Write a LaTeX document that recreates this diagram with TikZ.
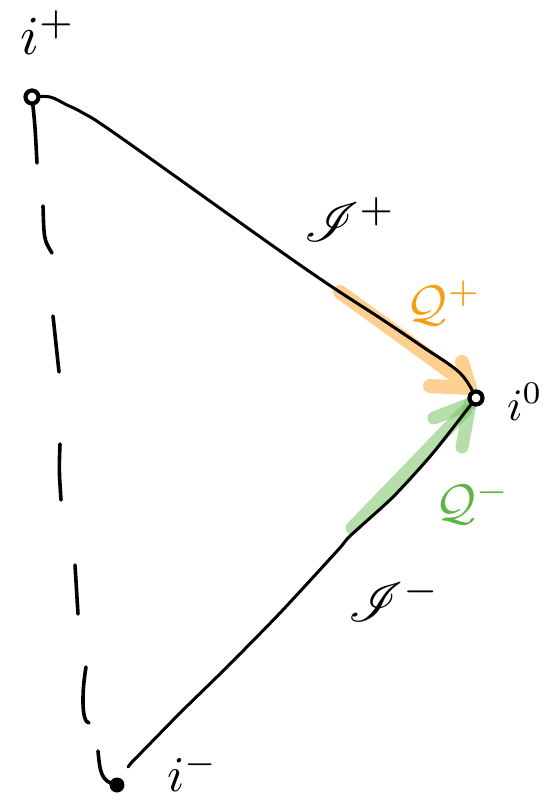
\documentclass[tikz,border=0pt]{standalone}
\usepackage{mathrsfs}
\usepackage{graphicx}
\definecolor{qorange}{RGB}{245,160,20}
\definecolor{bandorange}{RGB}{253,208,145}
\definecolor{qgreen}{RGB}{95,180,70}
\definecolor{bandgreen}{RGB}{120,195,100}
\begin{document}
\begin{tikzpicture}[x=1pt,y=-1pt,
  ink/.style={line width=3pt,line cap=round,line join=round},
  dashink/.style={line width=3.6pt,line cap=round,line join=round},
  oband/.style={line width=14pt,line cap=round,draw=bandorange},
  gband/.style={line width=13pt,line cap=round,draw=bandgreen,draw opacity=0.55},
  lbl/.style={inner sep=0pt},
  pt/.style={circle,draw,line width=4.2pt,minimum size=13pt,inner sep=0pt,fill=white}
]
\useasboundingbox (0,0) rectangle (557,800);
\coordinate (ip) at (32,97);
\coordinate (io) at (476,398);
\coordinate (im) at (117,785);

% highlight bands
\draw[oband] (340,292) -- (468,385);
\draw[oband] (470,388) -- (462,362);
\draw[oband] (470,388) -- (430,386);
\draw[gband] (352,528) -- (466,410);
\draw[gband] (470,404) -- (434,418);
\draw[gband] (470,404) -- (462,447);

% null boundaries
\draw[ink] plot[smooth,tension=0.6] coordinates {(ip) (50,97) (67,105) (83,113) (120,137) (300,265) (383,320) (423,347) (460,373) (io)};
\draw[ink] plot[smooth,tension=0.4] coordinates {(io) (433,453) (393,497) (350,536) (338,550) (280,613) (227,667) (180,713) (137,757) (131,763)};
\draw[ink] (131,763) -- (128,767);

% dashed axis
\draw[dashink] (ip) .. controls (35,125) .. (37,163);
\draw[dashink] (43,206) .. controls (44,240) .. (52,253);
\draw[dashink] (53,316) -- (59,372);
\draw[dashink] (60,444) .. controls (59,470) .. (61,500);
\draw[dashink] (75,565) -- (78,614);
\draw[dashink] (86,667) .. controls (82,690) and (81,722) .. (89,723);
\draw[dashink] (98,751) .. controls (100,770) and (100,782) .. (im);

% points
\node[pt] (nip) at (ip) {};
\node[pt] (nio) at (io) {};
\node[circle,fill=black,minimum size=15pt,inner sep=0pt] (nim) at (im) {};

% labels
\node[lbl] (lip) at (48,33) {\scalebox{5.5}{$i^+$}};
\node[lbl] (lscrip) at (350,220) {\scalebox{5.5}{$\mathscr{I}^+$}};
\node[lbl,text=qorange] (lqp) at (444,303) {\scalebox{5}{$\mathcal{Q}^+$}};
\node[lbl] (lio) at (525,402) {\scalebox{4.5}{$i^0$}};
\node[lbl,text=qgreen] (lqm) at (473,502) {\scalebox{5}{$\mathcal{Q}^-$}};
\node[lbl] (lscrim) at (395,600) {\scalebox{5.5}{$\mathscr{I}^-$}};
\node[lbl] (lim) at (193,772) {\scalebox{5}{$i^-$}};
\end{tikzpicture}
\end{document}
